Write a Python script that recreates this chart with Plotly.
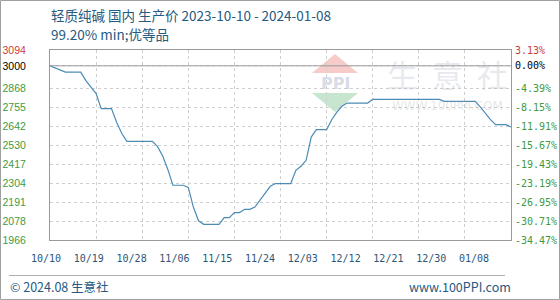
import plotly.graph_objects as go
import pandas as pd

start_date = "2023-10-10"
end_date = "2024-01-08"
prices = [3000, 2988, 2975, 2963, 2963, 2963, 2963, 2912, 2875, 2835,
          2746, 2746, 2746, 2665, 2600, 2552, 2552, 2552, 2552, 2552,
          2552, 2520, 2465, 2385, 2291, 2291, 2291, 2278, 2160, 2080,
          2059, 2059, 2059, 2059, 2099, 2099, 2129, 2129, 2148, 2148,
          2162, 2202, 2241, 2285, 2301, 2301, 2301, 2301, 2380, 2404,
          2439, 2577, 2621, 2621, 2621, 2680, 2725, 2760, 2779, 2779,
          2779, 2779, 2779, 2801, 2801, 2801, 2801, 2801, 2801, 2801,
          2801, 2801, 2801, 2801, 2801, 2801, 2801, 2789, 2789, 2789,
          2789, 2789, 2789, 2789, 2756, 2716, 2681, 2651, 2651, 2651,
          2637]
dates = pd.date_range(start_date, end_date, freq="D")

base = 3000
y_min, y_max = 1966, 3094
y_ticks = [3094, 3000, 2868, 2755, 2642, 2530, 2417, 2304, 2191, 2078, 1966]
pct_ticks = [3.13, 0.00, -4.39, -8.15, -11.91, -15.67, -19.43, -23.19, -26.95, -30.71, -34.47]
x_labels = ["10/10", "10/19", "10/28", "11/06", "11/15", "11/24",
            "12/03", "12/12", "12/21", "12/30", "01/08"]
grid_dates = pd.date_range(start_date, end_date, freq="9D")

RED, BLACK, GREEN = "#d03a3a", "#000000", "#3f9a3f"
def col(i):
    return RED if i == 0 else (BLACK if i == 1 else GREEN)

left_text = [f'<span style="color:{col(i)}">{v}</span>' for i, v in enumerate(y_ticks)]
right_text = [f'<span style="color:{col(i)}">{v:.2f}%</span>' for i, v in enumerate(pct_ticks)]

W, H = 560, 300
L, R, T, B = 50, 49, 50, 60
pw, ph = W - L - R, H - T - B
label_step_px = 42.8

fig = go.Figure()
fig.add_trace(go.Scatter(x=dates, y=prices, mode="lines",
                         line=dict(color="#4a8cb6", width=1.2),
                         hoverinfo="skip", showlegend=False))
fig.add_trace(go.Scatter(x=[0], y=[0], xaxis="x2", yaxis="y2", mode="markers",
                         marker=dict(opacity=0), hoverinfo="skip", showlegend=False))

fig.update_layout(
    width=W, height=H,
    margin=dict(l=L, r=R, t=T, b=B, pad=0, autoexpand=False),
    paper_bgcolor="white", plot_bgcolor="white",
    font=dict(family="DejaVu Sans", size=10),
    xaxis=dict(type="date", range=[dates[0], dates[-1]], automargin=False,
               tickvals=list(grid_dates), showticklabels=False,
               showgrid=True, gridcolor="#cfcfcf", griddash="dot", gridwidth=1,
               showline=True, linecolor="#9a9a9a", linewidth=1, mirror=True,
               zeroline=False, ticks=""),
    xaxis2=dict(overlaying="x", anchor="y", side="bottom", automargin=False,
                range=[0, pw / label_step_px], tickvals=list(range(len(x_labels))),
                ticktext=x_labels, showgrid=False, zeroline=False, showline=False,
                ticks="", ticklabelstandoff=11, ticklabelshift=-4,
                tickfont=dict(family="DejaVu Sans Mono", size=10, color="#2c5578")),
    yaxis=dict(range=[y_min, y_max], tickvals=y_ticks, ticktext=left_text, automargin=False,
               showgrid=True, gridcolor="#cfcfcf", griddash="dot", gridwidth=1,
               showline=True, linecolor="#9a9a9a", linewidth=1, mirror=True,
               zeroline=False, ticks="", ticklabelstandoff=21,
               tickfont=dict(family="Liberation Sans", size=10.5)),
    yaxis2=dict(overlaying="y", side="right", anchor="x", automargin=False,
                range=[(y_min / base - 1) * 100, (y_max / base - 1) * 100],
                tickvals=pct_ticks, ticktext=right_text,
                showgrid=False, zeroline=False, showline=False, ticks="",
                ticklabelstandoff=3,
                tickfont=dict(family="DejaVu Sans Mono", size=10)),
)

fig.add_shape(type="line", xref="paper", yref="y", x0=0, x1=1, y0=base, y1=base,
              line=dict(color="#9a9a9a", width=1), layer="above")

def px_x(p):
    return (p - L) / pw
def px_y(p):
    return (H - B - p) / ph

fig.add_shape(type="rect", xref="paper", yref="paper",
              x0=px_x(0.5), x1=px_x(W - 0.5), y0=px_y(H - 0.5), y1=px_y(0.5),
              line=dict(color="#a0a0a0", width=1))
fig.add_shape(type="line", xref="paper", yref="paper",
              x0=px_x(9), x1=px_x(505), y0=px_y(275.5), y1=px_y(275.5),
              line=dict(color="#b0b0b0", width=1))

# watermark logo
fig.add_shape(type="path", xref="paper", yref="paper",
              path=f"M {px_x(312)},{px_y(73)} L {px_x(335)},{px_y(54)} L {px_x(358)},{px_y(73)} Z",
              fillcolor="rgba(238,140,130,0.45)", line=dict(width=0), layer="below")
fig.add_shape(type="path", xref="paper", yref="paper",
              path=f"M {px_x(312)},{px_y(93)} L {px_x(358)},{px_y(93)} L {px_x(335)},{px_y(112)} Z",
              fillcolor="rgba(130,200,150,0.45)", line=dict(width=0), layer="below")

title_col = "#255a82"
anns = [
    dict(text="轻质纯碱 国内 生产价 2023-10-10 - 2024-01-08", x=px_x(49), y=px_y(15),
         xanchor="left", yanchor="middle", font=dict(family="Noto Sans CJK SC", size=13.5, color=title_col)),
    dict(text="99.20% min;优等品", x=px_x(49), y=px_y(34),
         xanchor="left", yanchor="middle", font=dict(family="Noto Sans CJK SC", size=13.5, color=title_col)),
    dict(text="© 2024.08 生意社", x=px_x(8), y=px_y(286),
         xanchor="left", yanchor="middle", font=dict(family="Noto Sans CJK SC", size=12.5, color=title_col)),
    dict(text="www.100PPI.com", x=px_x(513), y=px_y(286),
         xanchor="right", yanchor="middle", font=dict(family="Noto Sans CJK SC", size=12.5, color=title_col)),
    dict(text="<b>PPI</b>", x=px_x(335), y=px_y(83),
         xanchor="center", yanchor="middle", font=dict(family="DejaVu Sans", size=16, color="rgba(150,165,195,0.4)")),
    dict(text="生  意  社", x=px_x(447), y=px_y(73),
         xanchor="center", yanchor="middle", font=dict(family="Noto Sans CJK SC", size=31, color="rgba(170,180,200,0.3)")),
    dict(text="WWW.100PPI.COM", x=px_x(447), y=px_y(106),
         xanchor="center", yanchor="middle", font=dict(family="DejaVu Sans", size=12, color="rgba(170,170,170,0.3)")),
]
for a in anns:
    a.update(xref="paper", yref="paper", showarrow=False)
    fig.add_annotation(**a)

fig.write_html("out.html")
